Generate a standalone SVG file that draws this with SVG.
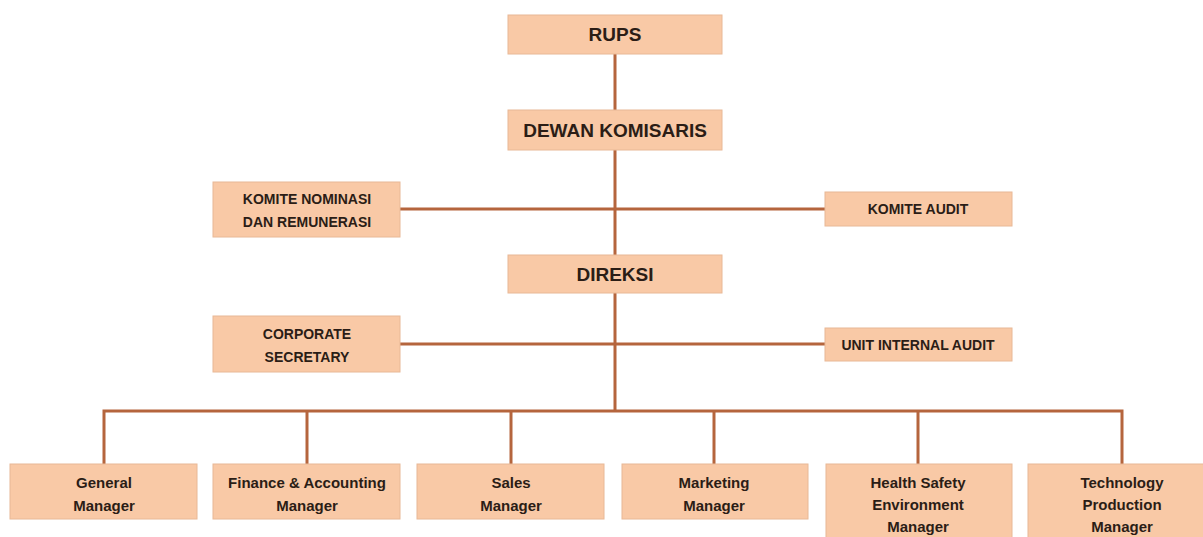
<svg xmlns="http://www.w3.org/2000/svg" width="1203" height="537" viewBox="0 0 1203 537">
<style>
.box{fill:#f9c9a6;stroke:#e8b896;stroke-width:1}
.ln{stroke:#b5653d;stroke-width:3;fill:none}
text{font-family:"Liberation Sans Narrow","Liberation Sans",Arial,sans-serif;font-weight:bold;fill:#2b1d16;text-anchor:middle}
.big{font-size:19px}
.mid{font-size:14px}
.sm{font-size:15px}
</style>
<rect width="1203" height="537" fill="#ffffff"/>
<g id="connectors">
<line class="ln" x1="615" y1="54" x2="615" y2="411"/>
<line class="ln" x1="400" y1="209" x2="825" y2="209"/>
<line class="ln" x1="400" y1="344" x2="825" y2="344"/>
<polyline class="ln" points="104,464 104,411 1122,411 1122,464"/>
<line class="ln" x1="307" y1="411" x2="307" y2="464"/>
<line class="ln" x1="511" y1="411" x2="511" y2="464"/>
<line class="ln" x1="714" y1="411" x2="714" y2="464"/>
<line class="ln" x1="918" y1="411" x2="918" y2="464"/>
</g>
<g id="rups"><rect class="box" x="508" y="15" width="214" height="39"/><text class="big" x="615" y="41">RUPS</text></g>
<g id="dewan"><rect class="box" x="508" y="110" width="214" height="40"/><text class="big" x="615" y="137">DEWAN KOMISARIS</text></g>
<g id="komite-nominasi"><rect class="box" x="213" y="182" width="187" height="55"/><text class="mid" x="307" y="204">KOMITE NOMINASI</text><text class="mid" x="307" y="227">DAN REMUNERASI</text></g>
<g id="komite-audit"><rect class="box" x="825" y="192" width="187" height="34"/><text class="mid" x="918" y="214">KOMITE AUDIT</text></g>
<g id="direksi"><rect class="box" x="508" y="255" width="214" height="38"/><text class="big" x="615" y="281">DIREKSI</text></g>
<g id="corporate-secretary"><rect class="box" x="213" y="316" width="187" height="56"/><text class="mid" x="307" y="339">CORPORATE</text><text class="mid" x="307" y="362">SECRETARY</text></g>
<g id="unit-internal-audit"><rect class="box" x="825" y="328" width="187" height="33"/><text class="mid" x="918" y="350">UNIT INTERNAL AUDIT</text></g>
<g id="general-manager"><rect class="box" x="10" y="464" width="187" height="55"/><text class="sm" x="104" y="488">General</text><text class="sm" x="104" y="511">Manager</text></g>
<g id="finance-manager"><rect class="box" x="213" y="464" width="187" height="55"/><text class="sm" x="307" y="488">Finance &amp; Accounting</text><text class="sm" x="307" y="511">Manager</text></g>
<g id="sales-manager"><rect class="box" x="417" y="464" width="187" height="55"/><text class="sm" x="511" y="488">Sales</text><text class="sm" x="511" y="511">Manager</text></g>
<g id="marketing-manager"><rect class="box" x="622" y="464" width="186" height="55"/><text class="sm" x="714" y="488">Marketing</text><text class="sm" x="714" y="511">Manager</text></g>
<g id="hse-manager"><rect class="box" x="826" y="464" width="186" height="78"/><text class="sm" x="918" y="488">Health Safety</text><text class="sm" x="918" y="510">Environment</text><text class="sm" x="918" y="532">Manager</text></g>
<g id="technology-manager"><rect class="box" x="1028" y="464" width="180" height="78"/><text class="sm" x="1122" y="488">Technology</text><text class="sm" x="1122" y="510">Production</text><text class="sm" x="1122" y="532">Manager</text></g>
</svg>
